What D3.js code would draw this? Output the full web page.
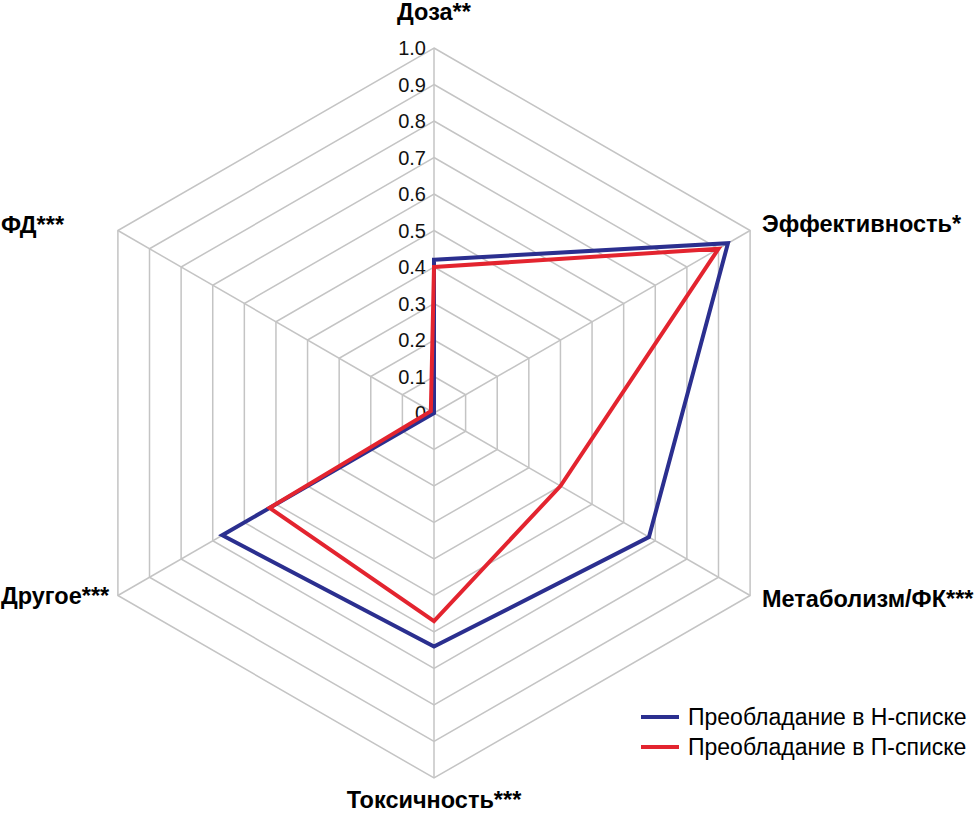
<!DOCTYPE html>
<html>
<head>
<meta charset="utf-8">
<script src="https://cdn.jsdelivr.net/npm/d3@7"></script>
<style>
  body { margin: 0; background: #fff; }
  svg { display: block; font-family: "Liberation Sans", Arial, sans-serif; }
</style>
</head>
<body>
<div id="chart"></div>
<script>
const axes = ['Доза**', 'Эффективность*', 'Метаболизм/ФК***', 'Токсичность***', 'Другое***', 'ФД***']
const seriesNames = ['Преобладание в Н-списке', 'Преобладание в П-списке']
const valuesH = [0.42, 0.93, 0.68, 0.64, 0.67, 0.0]
const valuesP = [0.40, 0.90, 0.40, 0.57, 0.52, 0.01]
const ticks = [0, 0.1, 0.2, 0.3, 0.4, 0.5, 0.6, 0.7, 0.8, 0.9, 1.0]
const colors = ['#2b2f8f', '#e3242f']

const width = 974
const height = 820
const cx = 434
const cy = 413
const R = 365

const svg = d3.select('#chart')
  .append('svg')
  .attr('width', width)
  .attr('height', height)

const g = svg.append('g').attr('transform', `translate(${cx},${cy})`)

const r = d3.scaleLinear().domain([0, 1]).range([0, R])
const angle = d3.scaleLinear().domain([0, axes.length]).range([0, 2 * Math.PI])

const radial = d3.lineRadial()
  .angle((d, i) => angle(i))
  .radius(d => r(d))
  .curve(d3.curveLinearClosed)

// grid rings
g.selectAll('path.ring')
  .data(ticks.slice(1))
  .enter()
  .append('path')
  .attr('class', 'ring')
  .attr('d', t => radial(axes.map(() => t)))
  .attr('fill', 'none')
  .attr('stroke', '#c4c4c4')
  .attr('stroke-width', 1.5)

// spokes
const point = (i, v) => [Math.sin(angle(i)) * r(v), -Math.cos(angle(i)) * r(v)]
g.selectAll('line.spoke')
  .data(axes)
  .enter()
  .append('line')
  .attr('class', 'spoke')
  .attr('x1', 0)
  .attr('y1', 0)
  .attr('x2', (d, i) => point(i, 1)[0])
  .attr('y2', (d, i) => point(i, 1)[1])
  .attr('stroke', '#c4c4c4')
  .attr('stroke-width', 1.5)

// tick labels on the top axis
g.selectAll('text.tick')
  .data(ticks)
  .enter()
  .append('text')
  .attr('class', 'tick')
  .attr('x', -8)
  .attr('y', t => -r(t))
  .attr('dy', '0.35em')
  .attr('text-anchor', 'end')
  .attr('font-size', 20)
  .attr('fill', '#111')
  .text(t => (t === 0 ? '0' : t.toFixed(1)))

// series
const series = [valuesH, valuesP]
g.selectAll('path.series')
  .data(series)
  .enter()
  .append('path')
  .attr('class', 'series')
  .attr('d', d => radial(d))
  .attr('fill', 'none')
  .attr('stroke', (d, i) => colors[i])
  .attr('stroke-width', 4)
  .attr('stroke-linejoin', 'miter')

// axis labels
const labelPos = [
  { x: 0, y: -393, anchor: 'middle' },
  { x: 328, y: -181, anchor: 'start' },
  { x: 328, y: 194, anchor: 'start' },
  { x: 0, y: 395, anchor: 'middle' },
  { x: -433, y: 191, anchor: 'start' },
  { x: -433, y: -180, anchor: 'start' }
]
g.selectAll('text.axis')
  .data(axes)
  .enter()
  .append('text')
  .attr('class', 'axis')
  .attr('x', (d, i) => labelPos[i].x)
  .attr('y', (d, i) => labelPos[i].y)
  .attr('text-anchor', (d, i) => labelPos[i].anchor)
  .attr('font-size', 23.5)
  .attr('font-weight', 'bold')
  .attr('fill', '#000')
  .text(d => d)

// legend
const legend = svg.append('g').attr('transform', 'translate(641,717)')
const items = legend.selectAll('g')
  .data(seriesNames)
  .enter()
  .append('g')
  .attr('transform', (d, i) => `translate(0,${i * 30})`)
items.append('line')
  .attr('x1', 0)
  .attr('x2', 38)
  .attr('y1', 0)
  .attr('y2', 0)
  .attr('stroke', (d, i) => colors[i])
  .attr('stroke-width', 4)
items.append('text')
  .attr('x', 47)
  .attr('y', 0)
  .attr('dy', '0.35em')
  .attr('font-size', 23)
  .attr('fill', '#000')
  .text(d => d)
</script>
</body>
</html>
